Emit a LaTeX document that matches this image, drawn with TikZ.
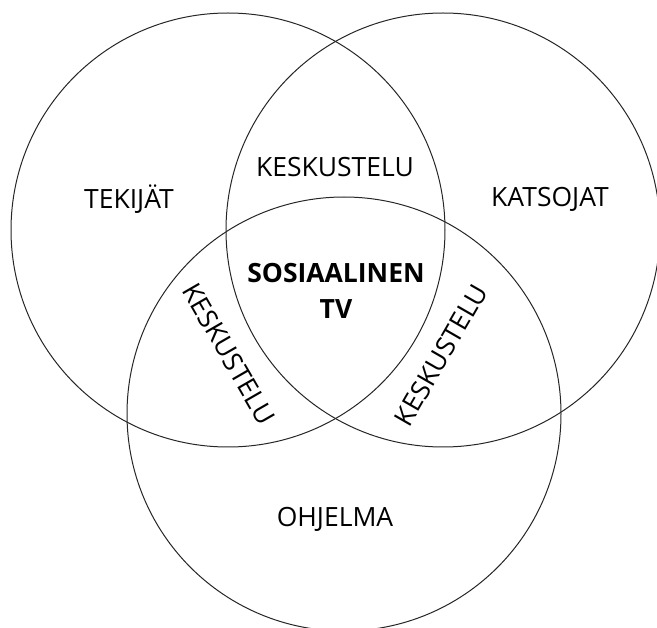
\documentclass[tikz,border=0pt]{standalone}
\usepackage{fontspec}
\setmainfont{Open Sans}

\begin{document}
\begin{tikzpicture}[x=1pt,y=-1pt]
  \tikzstyle{ring}=[line width=1pt,black!85]
  \tikzstyle{lbl}=[font=\fontsize{26.5}{30}\selectfont,inner sep=0pt]
  \useasboundingbox (0,0) rectangle (657,628);
  \clip (0,0) rectangle (657,628);
  \coordinate (tekijat) at (228,230);
  \coordinate (katsojat) at (443,230);
  \coordinate (ohjelma) at (344,414);
  \draw[ring] (tekijat) circle (217pt);
  \draw[ring] (katsojat) circle (217pt);
  \draw[ring] (ohjelma) circle (217pt);
  \node[lbl] (tek) at (129,199) {TEKIJÄT};
  \node[lbl] (kat) at (550,199) {KATSOJAT};
  \node[lbl] (ohj) at (335,519) {OHJELMA};
  \node[lbl] (kesk1) at (335,167) {KESKUSTELU};
  \node[lbl,rotate=-60] (kesk2) at (229,354) {KESKUSTELU};
  \node[lbl,rotate=60] (kesk3) at (441,355) {KESKUSTELU};
  \node[lbl,font=\fontsize{26.5}{36}\selectfont\bfseries,align=center] (stv) at (336,291) {SOSIAALINEN\\TV};
\end{tikzpicture}
\end{document}
